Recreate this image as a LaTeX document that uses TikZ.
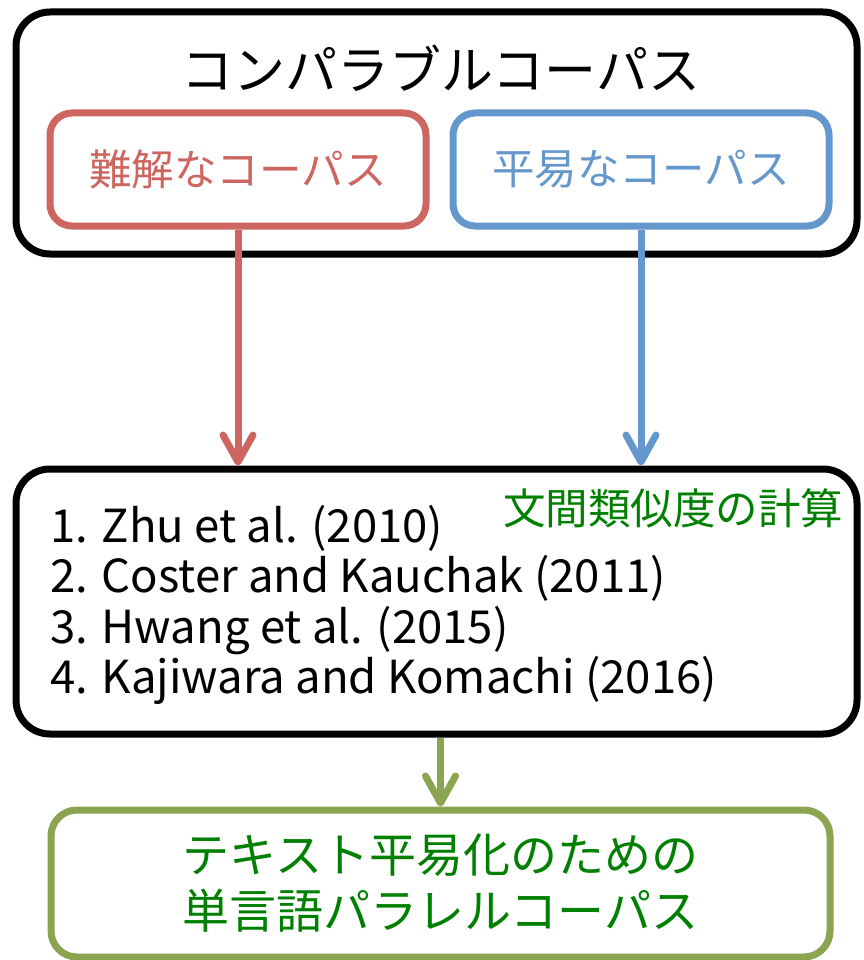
\documentclass[tikz,border=0pt]{standalone}
\usepackage{fontspec}
\setmainfont{Noto Sans CJK JP}
\usetikzlibrary{arrows.meta}
\definecolor{cred}{RGB}{205,102,96}
\definecolor{cblue}{RGB}{100,151,203}
\definecolor{colive}{RGB}{139,164,80}
\definecolor{cgreen}{RGB}{0,128,0}
\begin{document}
\begin{tikzpicture}[x=1pt,y=-1pt,
  bigbox/.style={draw=black,line width=7pt,rounded corners=34pt,fill=white,inner sep=0pt},
  subbox/.style={line width=7pt,rounded corners=22pt,inner sep=0pt,minimum width=376pt,minimum height=113pt},
  conn/.style={line width=7pt,-{Straight Barb[length=27pt,width=30pt,round]}},
  big/.style={font=\fontsize{52}{60}\selectfont},
  mid/.style={font=\fontsize{42.5}{50}\selectfont},
  ref/.style={font=\fontsize{45.5}{50}\selectfont,anchor=base west,inner sep=0pt}]
\useasboundingbox (0,0) rectangle (863,960);
\fill[white] (0,0) rectangle (863,960);
% top container
\node[bigbox,minimum width=841pt,minimum height=242pt] (outer) at (436.5,133) {};
\node[big] (title) at (441,68) {コンパラブルコーパス};
\node[subbox,draw=cred,text=cred,mid] (hard) at (238,169.5) {難解なコーパス};
\node[subbox,draw=cblue,text=cblue,mid] (easy) at (641,169.5) {平易なコーパス};
% middle box
\node[bigbox,minimum width=841pt,minimum height=265pt] (mid) at (436.5,601.5) {};
\node[mid,text=cgreen] (sim) at (673,508) {文間類似度の計算};
\node[ref] (r1) at (50,542) {1. Zhu et al. (2010)};
\node[ref] (r2) at (50,592) {2. Coster and Kauchak (2011)};
\node[ref] (r3) at (50,643) {3. Hwang et al. (2015)};
\node[ref] (r4) at (50,693) {4. Kajiwara and Komachi (2016)};
% bottom box
\node[draw=colive,line width=7pt,rounded corners=26pt,inner sep=0pt,minimum width=779pt,minimum height=147pt,
      text=cgreen,align=center,font=\fontsize{47}{56}\selectfont] (out) at (440.5,883.5)
      {テキスト平易化のための\\単言語パラレルコーパス};
% connectors
\draw[conn,cred] (hard.south) -- (hard.south |- mid.north);
\draw[conn,cblue] (easy.south) -- (easy.south |- mid.north);
\draw[conn,colive] (mid.south -| out.north) -- (out.north);
\end{tikzpicture}
\end{document}
